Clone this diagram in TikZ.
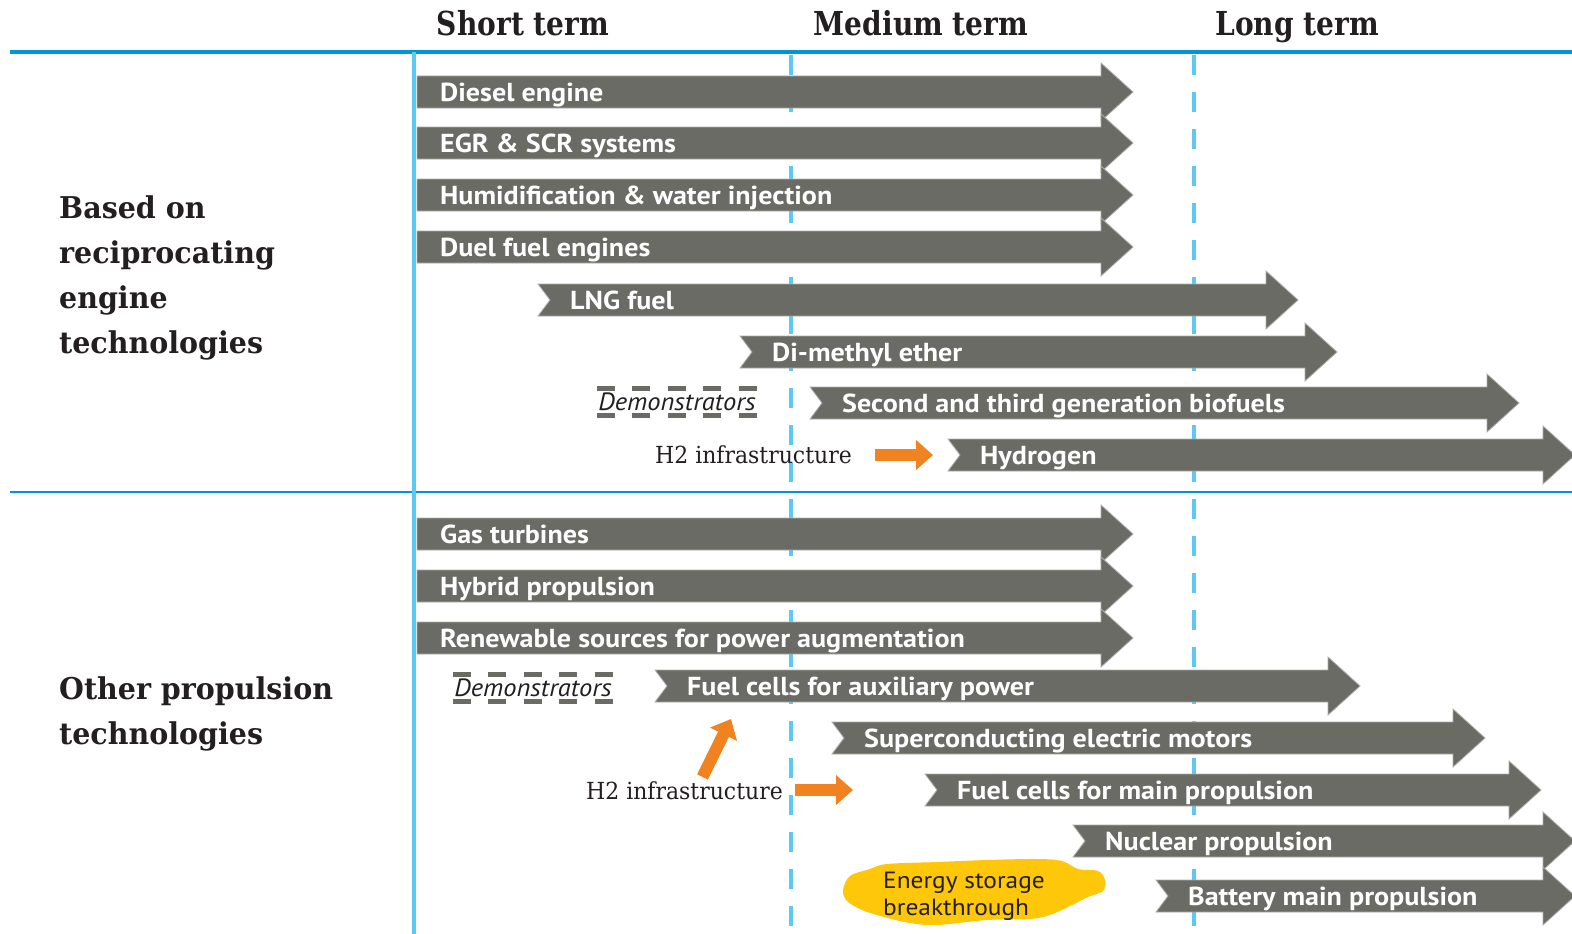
\documentclass[tikz,border=0pt]{standalone}
\usepackage{fontspec}
\usetikzlibrary{arrows.meta}
\newfontfamily\headfont{DejaVu Serif}[FakeStretch=0.85]
\newfontfamily\sidefont{DejaVu Serif}[FakeStretch=0.95]
\newfontfamily\hfont{DejaVu Serif}[FakeStretch=0.935]
\newfontfamily\barfont{PT Sans}[FakeStretch=1.08]
\newfontfamily\demofont{PT Sans}[FakeStretch=1.06]
\definecolor{bargray}{HTML}{6B6B65}
\definecolor{topblue}{HTML}{0095D9}
\definecolor{lightblue}{HTML}{5BC9F2}
\definecolor{orangeA}{HTML}{F08220}
\definecolor{yellowA}{HTML}{FFC709}
\definecolor{textdark}{HTML}{231F20}
\newcommand{\flatbar}[5]{%
  \path[barshape] (#3,#2-16) -- (#4-32,#2-16) -- (#4-32,#2-29) -- (#4,#2)
     -- (#4-32,#2+29) -- (#4-32,#2+16) -- (#3,#2+16) -- cycle;
  \coordinate (#1-s) at (#3,#2);
  \node[barlabel] (#1) at (#3+23,#2+9) {#5};
}
\newcommand{\notchbar}[5]{%
  \path[barshape] (#3,#2-16) -- (#4-32,#2-16) -- (#4-32,#2-29) -- (#4,#2)
     -- (#4-32,#2+29) -- (#4-32,#2+16) -- (#3,#2+16) -- (#3+12,#2) -- cycle;
  \coordinate (#1-s) at (#3,#2);
  \node[barlabel] (#1) at (#3+32,#2+9) {#5};
}
\begin{document}
\begin{tikzpicture}[x=1pt,y=-1pt,
  barshape/.style={fill=bargray, draw=bargray!55!white, line width=0.8pt},
  barlabel/.style={font=\barfont\bfseries\fontsize{26}{26}\selectfont, text=white, inner sep=0pt, anchor=base west},
  header/.style={font=\headfont\bfseries\fontsize{33}{33}\selectfont, text=textdark, inner sep=0pt, anchor=base},
  side/.style={font=\sidefont\bfseries\fontsize{30}{45}\selectfont, text=textdark, inner sep=0pt, anchor=north west, align=left},
  htext/.style={font=\hfont\fontsize{23.5}{23.5}\selectfont, text=textdark, inner sep=0pt, anchor=base west},
  demo/.style={font=\demofont\itshape\fontsize{25}{25}\selectfont, text=textdark, inner sep=0pt, minimum width=160pt, minimum height=27pt},
  demodash/.style={draw=bargray, line width=5pt, dash pattern=on 18pt off 17.5pt},
  orangearr/.style={draw=orangeA, line width=12pt, -{Triangle[length=17pt,width=29pt]}},
  vline/.style={draw=lightblue, line width=4.5pt},
  vdash/.style={draw=lightblue, line width=4.5pt, dash pattern=on 20pt off 17pt},
  energy/.style={font=\barfont\fontsize{23.5}{27}\selectfont, text=textdark, inner sep=0pt, anchor=north west, align=left}]
\useasboundingbox (0,0) rectangle (1572,934);
\fill[white] (0,0) rectangle (1572,934);
% grid lines
\draw[topblue, line width=4pt] (10,52) -- (1572,52);
\draw[topblue, line width=2.5pt] (10,492) -- (1572,492);
\draw[vline] (414,52) -- (414,934);
\draw[vdash] (791,55) -- (791,934);
\draw[vdash] (1194,55) -- (1194,934);
% headers
\node[header] (short) at (523,36) {Short term};
\node[header] (medium) at (921,36) {Medium term};
\node[header] (long) at (1297,36) {Long term};
% side labels
\node[side] (recip) at (59,196) {Based on\\reciprocating\\engine\\technologies};
\node[side] (other) at (59,677) {Other propulsion\\technologies};
% bars
\flatbar{diesel}{92}{417}{1133}{Diesel engine}
\flatbar{egr}{143}{417}{1133}{EGR \& SCR systems}
\flatbar{humid}{195}{417}{1133}{Humidification \& water injection}
\flatbar{duel}{247}{417}{1133}{Duel fuel engines}
\notchbar{lng}{300}{538}{1298}{LNG fuel}
\notchbar{dme}{352}{740}{1337}{Di-methyl ether}
\notchbar{bio}{403}{810}{1519}{Second and third generation biofuels}
\notchbar{hyd}{455}{948}{1575}{Hydrogen}
\flatbar{gas}{534}{417}{1133}{Gas turbines}
\flatbar{hybrid}{586}{417}{1133}{Hybrid propulsion}
\flatbar{renew}{638}{417}{1133}{Renewable sources for power augmentation}
\notchbar{fca}{686}{655}{1360}{Fuel cells for auxiliary power}
\notchbar{super}{738}{832}{1485}{Superconducting electric motors}
\notchbar{fcm}{790}{925}{1541}{Fuel cells for main propulsion}
\notchbar{nuc}{841}{1073}{1575}{Nuclear propulsion}
\notchbar{bat}{896}{1156}{1575}{Battery main propulsion}
% demonstrators
\node[demo] (demo1) at (677,402) {Demonstrators};
\draw[demodash] (demo1.north west) -- (demo1.north east);
\draw[demodash] (demo1.south west) -- (demo1.south east);
\node[demo] (demo2) at (533,688) {Demonstrators};
\draw[demodash] (demo2.north west) -- (demo2.north east);
\draw[demodash] (demo2.south west) -- (demo2.south east);
% H2 infrastructure
\node[htext] (h2a) at (655,463) {H2 infrastructure};
\draw[orangearr, shorten <=23pt, shorten >=15pt] (h2a.east |- hyd-s) -- (hyd-s);
\node[htext] (h2b) at (586,799) {H2 infrastructure};
\draw[orangearr, shorten <=12pt, shorten >=72pt] (h2b.east |- fcm-s) -- (fcm-s);
\coordinate (fcatgt) at (731,719);
\draw[orangearr] ([xshift=18pt,yshift=4pt]h2b.north) -- (fcatgt);
% energy storage blob
\fill[yellowA] plot[smooth cycle, tension=0.55] coordinates {
 (843,890) (850,876) (870,869) (887,864) (937,862) (987,860) (1037,859)
 (1062,861) (1078,869) (1098,871) (1105,880) (1103,891)
 (1088,897) (1068,907) (1050,915) (1030,919) (987,920) (937,925)
 (910,923) (884,917) (862,910) (847,901)};
\node[energy] (energy) at (883,872) {Energy storage\\breakthrough};
\end{tikzpicture}
\end{document}
